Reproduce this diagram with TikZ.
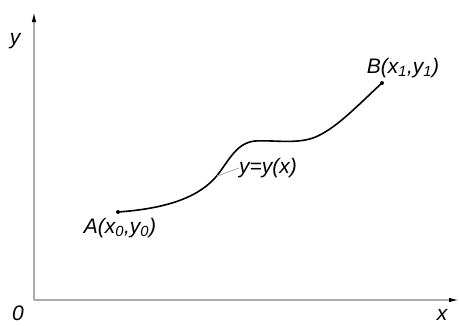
\documentclass[tikz,border=0pt]{standalone}
\usepackage{fontspec}
\setmainfont{Liberation Sans}
\usetikzlibrary{arrows.meta,positioning}
\definecolor{axisgray}{RGB}{170,170,170}

\begin{document}
\begin{tikzpicture}[x=1pt,y=1pt,
  axis/.style={draw=axisgray,line width=1.3pt,-{Latex[black,length=10pt,width=4.5pt]}},
  lbl/.style={font=\fontsize{21}{24}\selectfont\itshape,inner sep=0pt},
  pt/.style={circle,fill=black,inner sep=0pt,minimum size=4pt}]
\useasboundingbox (0,0) rectangle (459,325);
\coordinate (O) at (34,25);
\coordinate (ytip) at (34,313);
\coordinate (xtip) at (459,25);
\draw[axis] (O) -- (ytip);
\draw[axis] (O) -- (xtip);
\node[lbl] (ylab) at (15,284) {y};
\node[lbl] (olab) at (18,12) {0};
\node[lbl] (xlab) at (442,10) {x};
% curve y=y(x)
\node[pt] (A) at (118,113) {};
\node[pt] (B) at (382,242) {};
\draw[line width=1.6pt] (A.center) .. controls (160,116) and (195,125) .. (215,147)
  .. controls (228,162) and (235,182) .. (255,184)
  .. controls (275,185) and (295,181) .. (313,187)
  .. controls (335,195) and (358,220) .. (B.center);
\coordinate (crv) at (217,149);
\node[lbl,anchor=west] (eq) at (239,157) {y=y(x)};
\draw[axisgray,line width=0.8pt] (eq.west) -- (crv);
\node[lbl] (Alab) at (120,97) {A(x\textsubscript{0},y\textsubscript{0})};
\node[lbl] (Blab) at (403,257) {B(x\textsubscript{1},y\textsubscript{1})};
\end{tikzpicture}
\end{document}
